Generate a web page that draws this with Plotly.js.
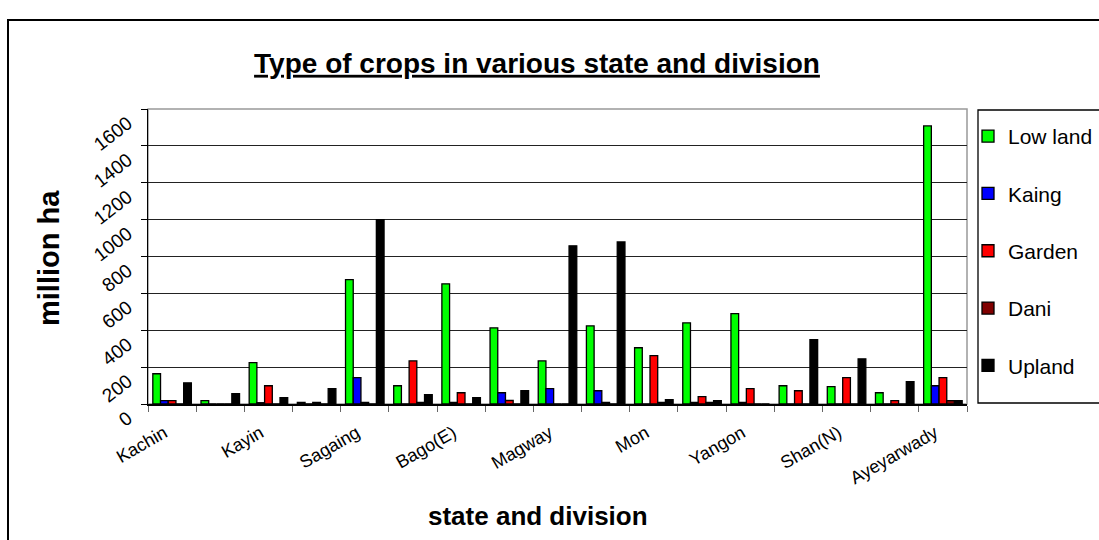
<!DOCTYPE html>
<html>
<head>
<meta charset="utf-8">
<script src="https://cdn.plot.ly/plotly-3.0.1.min.js"></script>
<style>
  html, body { margin: 0; padding: 0; background: #fff; overflow: hidden; }
  #wrap { position: relative; width: 1099px; height: 540px; overflow: hidden; }
  #chart { position: absolute; left: 0; top: 0; width: 1150px; height: 540px; }
  #frame { position: absolute; left: 7px; top: 19px; width: 1200px; height: 700px;
           border: 2px solid #000; pointer-events: none; }
</style>
</head>
<body>
<div id="wrap">
  <div id="chart"></div>
  <div id="frame"></div>
</div>
<script>
// Categories (states and divisions)
const categories = ["Kachin", "Kayah", "Kayin", "Chin", "Sagaing", "Tanintharyi", "Bago(E)", "Bago(W)",
                    "Magway", "Mandalay", "Mon", "Rakhine", "Yangon", "Shan(S)", "Shan(N)", "Shan(E)", "Ayeyarwady"];
// Tick labels that are shown on the axis
const shownLabels = ["Kachin", "Kayin", "Sagaing", "Bago(E)", "Magway", "Mon", "Yangon", "Shan(N)", "Ayeyarwady"];

// Series values
const lowLand = [164, 18, 224, 8, 675, 99, 652, 413, 234, 424, 305, 440, 490, 99, 94, 61, 1508];
const kaing   = [18, 0, 7, 0, 143, 0, 8, 61, 83, 72, 0, 8, 8, 0, 0, 0, 99];
const garden  = [18, 0, 99, 8, 8, 234, 61, 19, 0, 8, 262, 40, 83, 72, 143, 18, 143];
const dani    = [0, 0, 0, 0, 0, 8, 0, 0, 0, 0, 8, 8, 0, 0, 0, 0, 18];
const upland  = [115, 56, 34, 83, 1000, 51, 34, 72, 858, 879, 23, 18, 0, 349, 245, 121, 18];

const seriesNames = ["Low land", "Kaing", "Garden", "Dani", "Upland"];
const seriesValues = [lowLand, kaing, garden, dani, upland];
const seriesColors = ["#00FF00", "#0000FF", "#FF0000", "#800000", "#000000"];

const FONT = "Liberation Sans, Arial, sans-serif";

// Figure geometry (the figure is a little wider than the window, so the
// legend box runs off the right edge as in the original)
const W = 1150, H = 540;
const M = { l: 148, r: 183, t: 109, b: 136 };
const PW = W - M.l - M.r, PH = H - M.t - M.b;
const px = x => (x - M.l) / PW;        // page x -> paper x
const py = y => (H - M.b - y) / PH;    // page y -> paper y

const traces = seriesNames.map((name, i) => ({
  type: "bar",
  name: name,
  x: categories,
  y: seriesValues[i],
  legendgroup: "g" + i,
  marker: { color: seriesColors[i], line: { color: "#000", width: 1.3 } },
  hoverinfo: "x+y+name"
}));

const tickText = categories.map(c => shownLabels.includes(c) ? c : "");

const layout = {
  width: W,
  height: H,
  paper_bgcolor: "#fff",
  plot_bgcolor: "#fff",
  margin: M,
  barmode: "group",
  bargap: 0.2,
  bargroupgap: 0,
  font: { family: FONT, color: "#000" },
  title: {
    text: "<b><u>Type of crops in various state and division</u></b>",
    font: { family: FONT, size: 28, color: "#000" },
    x: 537 / W, xanchor: "center", xref: "container",
    y: 1 - 63 / H, yanchor: "middle", yref: "container"
  },
  xaxis: {
    type: "category",
    categoryorder: "array",
    categoryarray: categories,
    tickmode: "array",
    tickvals: categories,
    ticktext: tickText,
    tickson: "boundaries",
    ticks: "outside",
    ticklen: 6,
    tickwidth: 1,
    tickcolor: "#666",
    tickangle: -30,
    ticklabelstandoff: 10,
    ticklabelshift: -8,
    tickfont: { family: FONT, size: 18, color: "#000" },
    showgrid: false,
    showline: true,
    linecolor: "#000",
    linewidth: 1.5,
    zeroline: false,
    fixedrange: true
  },
  yaxis: {
    range: [0, 1600],
    dtick: 200,
    tick0: 0,
    ticks: "outside",
    ticklen: 6,
    tickcolor: "#000",
    tickangle: -38,
    ticklabelstandoff: 9,
    ticklabelshift: 12,
    tickfont: { family: FONT, size: 19, color: "#000" },
    showgrid: true,
    gridcolor: "#222",
    gridwidth: 1,
    showline: true,
    linecolor: "#000",
    linewidth: 1.5,
    zeroline: false,
    fixedrange: true
  },
  legend: {
    x: px(968),
    xanchor: "left",
    y: py(116),
    yanchor: "top",
    borderwidth: 0,
    bgcolor: "rgba(0,0,0,0)",
    font: { family: FONT, size: 21, color: "#000" },
    itemwidth: 30,
    tracegroupgap: 27,
    traceorder: "grouped"
  },
  shapes: [
    {
      type: "rect", xref: "paper", yref: "paper", x0: 0, x1: 1, y0: 0, y1: 1,
      line: { color: "#999", width: 1.5 }, fillcolor: "rgba(0,0,0,0)", layer: "below"
    },
    {
      type: "rect", xref: "paper", yref: "paper",
      x0: px(978), x1: px(1130), y0: py(403), y1: py(110),
      line: { color: "#000", width: 1.3 }, fillcolor: "rgba(0,0,0,0)", layer: "below"
    }
  ],
  annotations: [
    {
      text: "<b>state and division</b>",
      xref: "paper", yref: "paper",
      x: px(538), y: py(516),
      xanchor: "center", yanchor: "middle",
      showarrow: false,
      font: { family: FONT, size: 26, color: "#000" }
    },
    {
      text: "<b>million ha</b>",
      xref: "paper", yref: "paper",
      x: px(49), y: py(258),
      xanchor: "center", yanchor: "middle",
      textangle: -90,
      showarrow: false,
      font: { family: FONT, size: 29, color: "#000" }
    }
  ]
};

Plotly.newPlot("chart", traces, layout, { displayModeBar: false, staticPlot: true });
</script>
</body>
</html>
